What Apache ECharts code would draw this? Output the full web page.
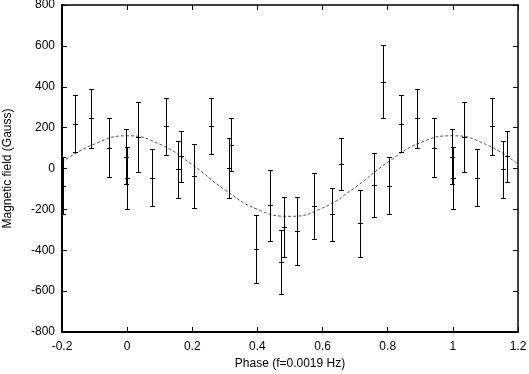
<!DOCTYPE html>
<html>
<head>
<meta charset="utf-8">
<script src="https://cdn.jsdelivr.net/npm/echarts@6/dist/echarts.min.js"></script>
<style>
  html, body { margin: 0; padding: 0; background: #fff; }
  #main { width: 529px; height: 374px; }
</style>
</head>
<body>
<div id="main"></div>
<script>
// measured points, phase folded into [0, 1)
var phase = [0.034, 0.075, 0.119, 0.155, 0.165, 0.204, 0.258, 0.313, 0.318, 0.397,
  0.440, 0.471, 0.483, 0.522, 0.574, 0.628, 0.657, 0.716, 0.759, 0.787,
  0.803, 0.840, 0.890, 0.943, 0.997, 0.999]
var field = [153, -46, 206, -3, 59, -38, 210, 3, 117, -394,
  -181, -459, -286, -305, -183, -225, 20, -269, -80, 424,
  -85, 220, 245, 101, 57, -47]
var fieldErr = [171, 139, 140, 140, 124, 157, 137, 146, 130, 167,
  173, 156, 148, 166, 160, 130, 127, 162, 156, 178,
  139, 140, 145, 145, 135, 151]

// fitted curve
var curvePhase = [-0.2, -0.1, 0, 0.1, 0.2, 0.3, 0.4, 0.5, 0.6, 0.7, 0.8, 0.9, 1.0, 1.1, 1.2]
var curveField = [32, 120, 160, 119, 18, -104, -200, -234, -193, -92, 30, 126, 160, 119, 22]

var xMin = -0.2, xMax = 1.2

// points are drawn again one cycle earlier / later where they fit the axis
var bars = []
phase.forEach(function (p, i) {
  [-1, 0, 1].forEach(function (shift) {
    var x = p + shift
    if (x >= xMin - 1e-9 && x <= xMax + 1e-9) bars.push([x, field[i], fieldErr[i]])
  })
})
var curve = curvePhase.map(function (p, i) { return [p, curveField[i]] })

var font = 'Liberation Sans, Arial, sans-serif'
var chart = echarts.init(document.getElementById('main'))

function crisp (v) { return Math.round(v) + 0.5 }

chart.setOption({
  animation: false,
  grid: { left: 62, right: 11, top: 5, bottom: 42, containLabel: false, outerBoundsMode: 'none' },
  xAxis: [
    {
      type: 'value', min: xMin, max: xMax, interval: 0.2,
      name: 'Phase (f=0.0019 Hz)', nameLocation: 'middle', nameGap: 23,
      nameTextStyle: { fontFamily: font, fontSize: 12, color: '#000' },
      axisLine: { show: true, onZero: false, lineStyle: { color: '#000', width: 2 } },
      axisTick: { show: true, inside: true, length: 5, lineStyle: { color: '#000' } },
      axisLabel: {
        fontFamily: font, fontSize: 12, color: '#000', margin: 9,
        formatter: function (v) { return String(Math.round(v * 10) / 10) }
      },
      splitLine: { show: false }
    },
    {
      type: 'value', min: xMin, max: xMax, interval: 0.2, position: 'top',
      axisLine: { show: true, onZero: false, lineStyle: { color: '#000', width: 1.5 } },
      axisTick: { show: true, inside: true, length: 5, lineStyle: { color: '#000' } },
      axisLabel: { show: false },
      splitLine: { show: false }
    }
  ],
  yAxis: [
    {
      type: 'value', min: -800, max: 800, interval: 200,
      name: 'Magnetic field (Gauss)', nameLocation: 'middle', nameGap: 48,
      nameTextStyle: { fontFamily: font, fontSize: 12, color: '#000' },
      axisLine: { show: true, onZero: false, lineStyle: { color: '#000', width: 2 } },
      axisTick: { show: true, inside: true, length: 5, lineStyle: { color: '#000' } },
      axisLabel: { fontFamily: font, fontSize: 12, color: '#000', margin: 7 },
      splitLine: { show: false }
    },
    {
      type: 'value', min: -800, max: 800, interval: 200, position: 'right',
      axisLine: { show: true, onZero: false, lineStyle: { color: '#000', width: 1.5 } },
      axisTick: { show: true, inside: true, length: 5, lineStyle: { color: '#000' } },
      axisLabel: { show: false },
      splitLine: { show: false }
    }
  ],
  series: [
    {
      name: 'fit',
      type: 'line',
      data: curve,
      smooth: true,
      showSymbol: false,
      lineStyle: { color: '#555', width: 1, type: [3, 2] },
      z: 1
    },
    {
      name: 'B',
      type: 'custom',
      data: bars,
      renderItem: function (params, api) {
        var x = api.value(0), y = api.value(1), e = api.value(2)
        var top = api.coord([x, y + e])
        var bot = api.coord([x, y - e])
        var mid = api.coord([x, y])
        var cx = crisp(mid[0])
        var w = 2.5
        var st = { stroke: '#000', lineWidth: 1 }
        return {
          type: 'group',
          children: [
            { type: 'line', shape: { x1: cx, y1: crisp(top[1]), x2: cx, y2: crisp(bot[1]) }, style: st },
            { type: 'line', shape: { x1: cx - w, y1: crisp(top[1]), x2: cx + w, y2: crisp(top[1]) }, style: st },
            { type: 'line', shape: { x1: cx - w, y1: crisp(bot[1]), x2: cx + w, y2: crisp(bot[1]) }, style: st },
            { type: 'line', shape: { x1: cx - w, y1: crisp(mid[1]), x2: cx + w, y2: crisp(mid[1]) }, style: st }
          ]
        }
      },
      z: 2
    }
  ]
})
</script>
</body>
</html>
